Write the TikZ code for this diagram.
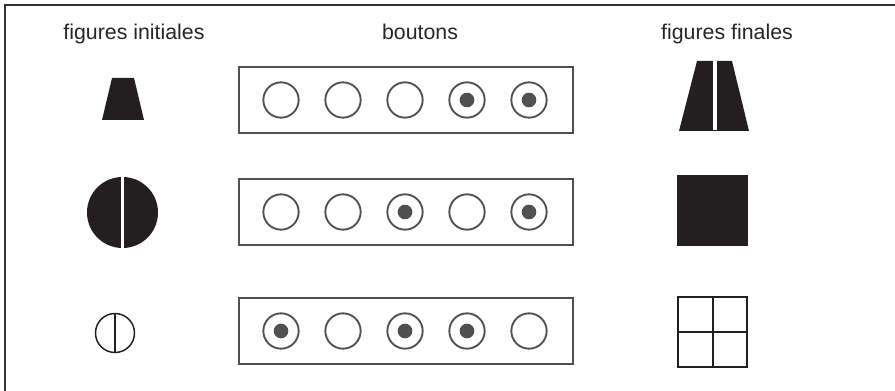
\documentclass[tikz,border=0pt]{standalone}
\usepackage{fontspec}
\setmainfont{Liberation Sans}
\definecolor{noir}{RGB}{35,31,32}
\definecolor{gris}{RGB}{80,80,80}
\begin{document}
\begin{tikzpicture}[x=0.75pt,y=-0.75pt,line width=1.4pt,
  titre/.style={anchor=base,inner sep=0pt,text=black!85,font=\fontsize{16}{19}\selectfont},
  boite/.style={draw=gris,line width=1.5pt,minimum width=250pt,minimum height=50pt},
  bouton/.style={circle,draw=gris,minimum size=26.5pt,inner sep=0pt},
  point/.style={circle,fill=gris,minimum size=11pt,inner sep=0pt}]
\useasboundingbox (0,0) rectangle (895,391);
% cadre
\draw[line width=1.6pt,black!80] (5,391) -- (5,5) -- (895,5);
% titres
\node[titre] (titreG) at (134,40) {figures initiales};
\node[titre] (titreM) at (420,40) {boutons};
\node[titre] (titreD) at (727,40) {figures finales};
% rangées de boutons
\foreach \ligne/\y/\motif in {1/100/{0,0,0,1,1},2/212/{0,0,1,0,1},3/331/{1,0,1,1,0}}{
  \node[boite] (boite\ligne) at (406,\y) {};
  \foreach \etat [count=\i] in \motif{
    \node[bouton] (b\ligne\i) at (219+62*\i,\y) {};
    \ifnum\etat=1 \node[point] (p\ligne\i) at (b\ligne\i) {};\fi
  }
}
% figures initiales
\fill[noir] (112,78) -- (134,78) -- (144,120) -- (102,120) -- cycle;
\fill[noir] (122.5,212.5) circle[radius=35.5];
\fill[white] (121.3,176) rectangle (124.2,249);
\draw[noir,line width=1.1pt] (115,333) circle[radius=19.5];
\draw[noir,line width=1.1pt] (115,313.5) -- (115,352.5);
% figures finales
\fill[noir] (697,61) -- (732,61) -- (749,131) -- (679,131) -- cycle;
\fill[white] (713.2,61) rectangle (716.8,130);
\fill[noir] (677,175) rectangle (748,246);
\draw[noir,line width=1.5pt] (678,297) rectangle (747,367)
  (712.5,297) -- (712.5,367) (678,332) -- (747,332);
\end{tikzpicture}
\end{document}
